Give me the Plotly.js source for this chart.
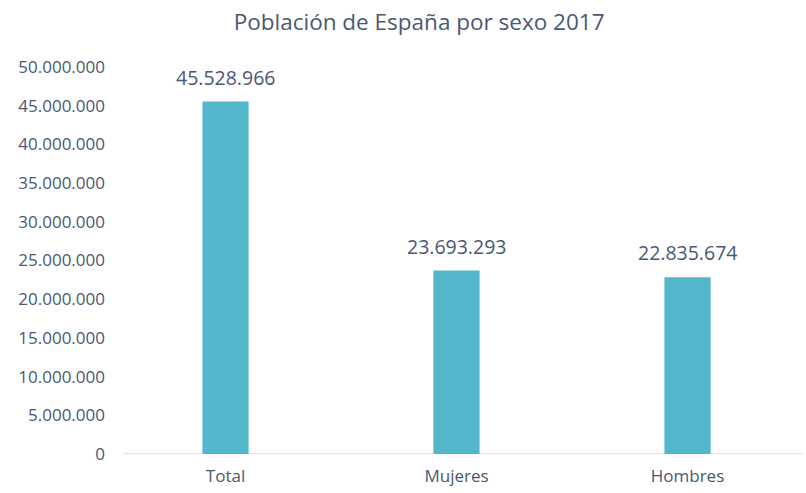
<!DOCTYPE html>
<html>
<head>
<meta charset="utf-8">
<script src="https://cdn.plot.ly/plotly-3.0.1.min.js"></script>
<style>html,body{margin:0;padding:0;background:#fff;}#chart{width:806px;height:493px;}</style>
</head>
<body>
<div id="chart"></div>
<script>
const categories = ["Total", "Mujeres", "Hombres"];
const population = [45528966, 23693293, 22835674];
const valueLabels = ["45.528.966", "23.693.293", "22.835.674"];
const yTicks = [0, 5000000, 10000000, 15000000, 20000000, 25000000, 30000000, 35000000, 40000000, 45000000, 50000000];

const txtColor = "#4a5873";
const trace = {
  type: "bar",
  x: categories,
  y: population,
  marker: {color: "#53b7cb"},
  hoverinfo: "none"
};
const annotations = categories.map((c, i) => ({
  x: c, y: population[i], xref: "x", yref: "y",
  text: valueLabels[i], showarrow: false,
  xanchor: "center", yanchor: "bottom", yshift: 9,
  font: {size: 19.5, color: txtColor, family: "Open Sans"}
}));
const layout = {
  width: 806, height: 493,
  separators: ",.",
  margin: {l: 110, r: 3, t: 67, b: 39},
  paper_bgcolor: "#fff", plot_bgcolor: "#fff",
  font: {family: "Open Sans", color: txtColor, size: 14},
  title: {text: "Población de España por sexo 2017", x: 0.52, xanchor: "center", y: 0.955, yanchor: "middle",
          font: {size: 22.5, color: txtColor, family: "Open Sans"}},
  bargap: 0.8,
  annotations: annotations,
  shapes: [{type: "line", xref: "paper", yref: "y", x0: 0.019, x1: 1, y0: 0, y1: 0,
            line: {color: "#d9d9d9", width: 1.5}, layer: "below"}],
  xaxis: {showgrid: false, showline: false, ticks: "",
          tickfont: {size: 17, color: txtColor}, ticklabelstandoff: 10},
  yaxis: {range: [0, 50000000], tickvals: yTicks, tickformat: ",d", showgrid: false, zeroline: false,
          showline: false, ticks: "", tickfont: {size: 17, color: txtColor}, ticklabelstandoff: 4},
  showlegend: false
};
Plotly.newPlot("chart", [trace], layout, {displayModeBar: false, staticPlot: true});
</script>
</body>
</html>
